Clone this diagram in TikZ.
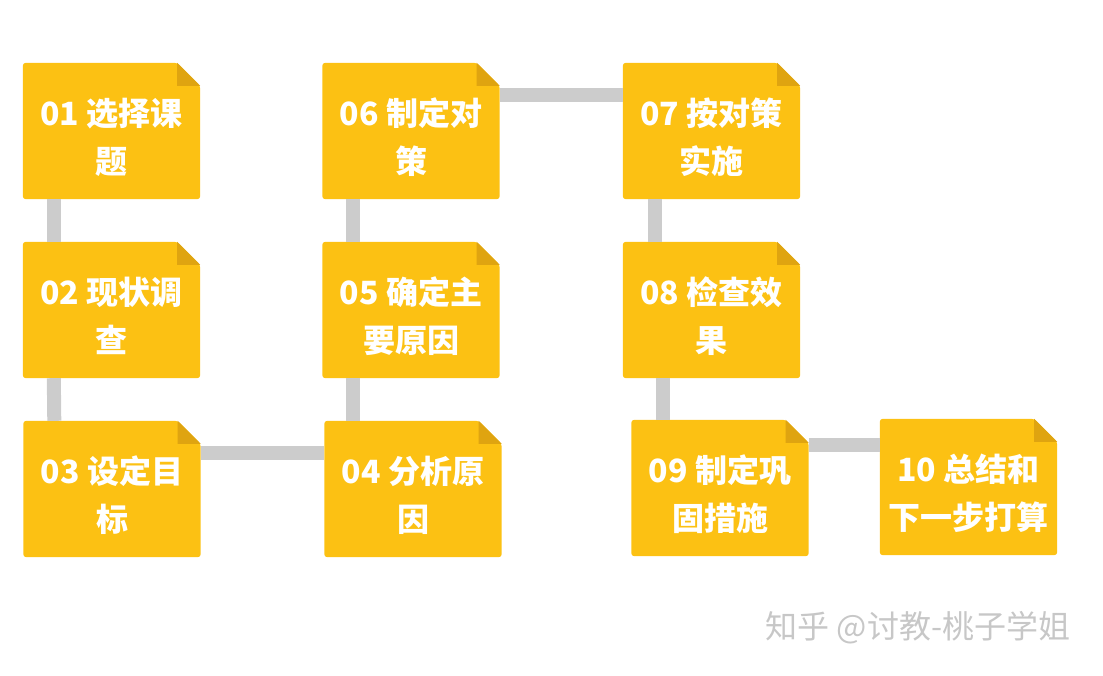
\documentclass[tikz,border=0pt]{standalone}
\usepackage{fontspec}
\newfontfamily\cjk{Noto Sans CJK SC}
\usepackage{xcolor}
\usetikzlibrary{positioning}
\definecolor{cardyellow}{HTML}{FCC113}
\definecolor{cardfold}{HTML}{DFA410}
\definecolor{linkgray}{HTML}{CCCCCC}
\pgfdeclarelayer{background}
\pgfsetlayers{background,main}
\newcommand{\lift}{\rule{0pt}{40pt}}

\begin{document}
\begin{tikzpicture}[x=1pt, y=-1pt, link/.style = {linkgray, line width=14pt},
    card/.style = {minimum width=177pt, minimum height=136pt, inner sep=0pt, text=white, align=center, font=\cjk\bfseries\fontsize{32pt}{48pt}\selectfont}]
      \useasboundingbox (0,0) rectangle (1103,676);
      \node[card] (n_1) at (111.5,131) {\lift 01 选择课\\题};
      \node[card] (n_2) at (111.5,310) {\lift 02 现状调\\查};
      \node[card] (n_3) at (112,489) {\lift 03 设定目\\标};
      \node[card] (n_4) at (413,489) {\lift 04 分析原\\因};
      \node[card] (n_5) at (411,310) {\lift 05 确定主\\要原因};
      \node[card] (n_6) at (411,131) {\lift 06 制定对\\策};
      \node[card] (n_7) at (711.5,131) {\lift 07 按对策\\实施};
      \node[card] (n_8) at (711.5,310) {\lift 08 检查效\\果};
      \node[card] (n_9) at (720,488) {\lift 09 制定巩\\固措施};
      \node[card] (n_10) at (968.5,487) {\lift 10 总结和\\下一步打算};

      \begin{pgfonlayer}{background}
      \foreach \n in {1,...,10} {
        \fill[cardyellow, rounded corners=3pt] (n_\n.south west) -- (n_\n.north west) -- ([xshift=-23pt]n_\n.north east) -- ([yshift=-23pt]n_\n.north east) -- (n_\n.south east) -- cycle;
        \fill[cardfold] ([xshift=-23pt]n_\n.north east) -- ([yshift=-23pt]n_\n.north east) -- ([xshift=-23pt, yshift=-23pt]n_\n.north east) -- cycle;
      }
      \draw[link] ([xshift=31pt]n_1.south west) -- ([xshift=31pt]n_2.north west);
      \draw[link] ([xshift=31pt]n_2.south west) -- ([xshift=31pt]n_3.north west);
      \draw[link] ([yshift=-32pt]n_3.north east) -- ([yshift=-32pt]n_3.north east -| n_4.west);
      \draw[link] ([xshift=29pt]n_4.north west) -- ([xshift=31pt]n_5.south west);
      \draw[link] ([xshift=31pt]n_5.north west) -- ([xshift=31pt]n_6.south west);
      \draw[link] ([yshift=-32pt]n_6.north east) -- ([yshift=-32pt]n_7.north west);
      \draw[link] ([xshift=32pt]n_7.south west) -- ([xshift=32pt]n_8.north west);
      \draw[link] ([xshift=40pt]n_8.south west) -- ([xshift=40pt]n_8.south west |- n_9.north);
      \draw[link] ([yshift=-25pt]n_9.north east) -- ([yshift=-25pt]n_9.north east -| n_10.west);
      \end{pgfonlayer}

      \node[text=black!22, font=\cjk\fontsize{32pt}{36pt}\selectfont] (mark) at (918,628) {知乎 @讨教-桃子学姐};
    \end{tikzpicture}
\end{document}
